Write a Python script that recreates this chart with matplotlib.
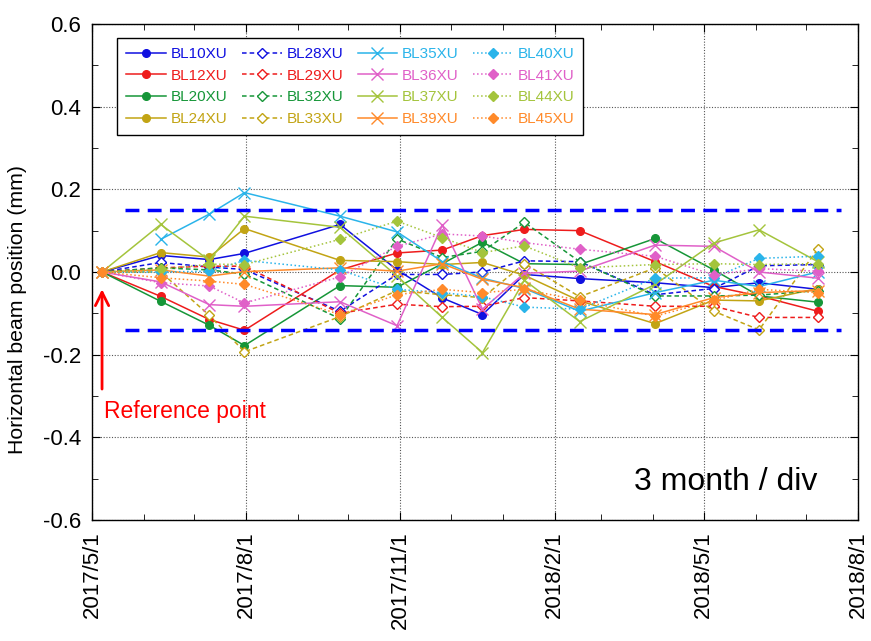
import numpy as np
import pandas as pd
import matplotlib
matplotlib.use('Agg')
import matplotlib.pyplot as plt
import matplotlib.dates as mdates

plt.rcParams['font.family'] = ['Liberation Sans', 'DejaVu Sans']

# measurement dates
dates = pd.to_datetime(['2017-05-07', '2017-06-11', '2017-07-10', '2017-07-31', '2017-09-26',
                        '2017-10-30', '2017-11-26', '2017-12-20', '2018-01-14', '2018-02-16',
                        '2018-04-02', '2018-05-07', '2018-06-03', '2018-07-08'])

nan = np.nan
# horizontal beam position (mm) per beamline
bl10 = [0, 0.04, 0.03, 0.045, 0.115, 0.005, -0.063, -0.103, -0.006, -0.016, -0.026, -0.038, -0.026, -0.042]
bl12 = [0, -0.059, -0.115, -0.141, 0.005, 0.046, 0.053, 0.088, 0.103, 0.100, 0.025, -0.035, -0.058, -0.095]
bl20 = [0, -0.071, -0.129, -0.178, -0.033, -0.037, 0.02, 0.072, 0.02, 0.018, 0.081, 0.005, -0.058, -0.073]
bl24 = [0, 0.047, 0.036, 0.105, 0.028, 0.025, 0.018, 0.023, -0.008, -0.07, -0.125, -0.068, -0.07, -0.04]
bl28 = [0, 0.023, 0.012, 0.006, -0.095, -0.006, -0.006, 0.0, 0.027, 0.025, -0.055, -0.04, 0.015, 0.018]
bl29 = [0, 0.01, 0.014, 0.014, -0.1, -0.078, -0.084, -0.083, -0.062, -0.07, -0.083, -0.083, -0.11, -0.11]
bl32 = [0, 0.01, 0.005, -0.005, -0.113, 0.08, 0.035, 0.05, 0.12, 0.025, -0.058, -0.058, -0.056, -0.045]
bl33 = [0, 0.0, -0.105, -0.193, -0.108, -0.045, -0.055, -0.062, 0.02, -0.06, 0.01, -0.095, -0.14, 0.055]
bl35 = [nan, 0.079, 0.14, 0.192, 0.135, 0.097, 0.025, -0.015, -0.04, -0.095, -0.05, -0.02, -0.035, 0.0]
bl36 = [0, -0.024, -0.079, -0.083, -0.072, -0.13, 0.113, -0.09, -0.003, 0.002, 0.065, 0.062, 0.0, -0.015]
bl37 = [0, 0.115, 0.028, 0.135, 0.108, -0.01, -0.11, -0.195, -0.02, -0.12, -0.03, 0.07, 0.102, 0.025]
bl39 = [0, 0.005, -0.01, 0.001, 0.01, 0.002, 0.02, -0.018, -0.038, -0.09, -0.103, -0.062, -0.05, -0.045]
bl40 = [0, 0.0, 0.002, 0.028, 0.005, -0.042, -0.05, -0.06, -0.085, -0.09, -0.015, -0.014, 0.033, 0.038]
bl41 = [0, -0.026, -0.034, -0.075, -0.012, 0.062, 0.092, 0.087, 0.071, 0.055, 0.038, -0.007, 0.008, 0.002]
bl44 = [0, 0.006, 0.019, 0.018, 0.079, 0.123, 0.083, 0.047, 0.063, 0.01, 0.018, 0.02, 0.018, 0.02]
bl45 = [0, -0.014, -0.022, -0.03, -0.103, -0.055, -0.042, -0.05, -0.042, -0.069, -0.107, -0.069, -0.042, -0.05]

names = ['BL10XU', 'BL12XU', 'BL20XU', 'BL24XU',
         'BL28XU', 'BL29XU', 'BL32XU', 'BL33XU',
         'BL35XU', 'BL36XU', 'BL37XU', 'BL39XU',
         'BL40XU', 'BL41XU', 'BL44XU', 'BL45XU']
values = [bl10, bl12, bl20, bl24, bl28, bl29, bl32, bl33,
          bl35, bl36, bl37, bl39, bl40, bl41, bl44, bl45]

limit_hi = 0.15
limit_lo = -0.14

c_blue, c_red, c_green, c_gold = '#1010e0', '#ee1c1c', '#169638', '#c2a414'
c_cyan, c_mag, c_ygreen, c_orange = '#2ab4ea', '#e060c8', '#a4c43c', '#ff8a2a'
colors = [c_blue, c_red, c_green, c_gold] * 2 + [c_cyan, c_mag, c_ygreen, c_orange] * 2

fig = plt.figure(figsize=(8.71, 6.41), dpi=100)
ax = fig.add_axes([0.1056, 0.1888, 0.8794, 0.7738])

for i, (name, v) in enumerate(zip(names, values)):
    col = colors[i]
    grp = i // 4
    if grp == 0:
        kw = dict(ls='-', marker='o', ms=5.5, mfc=col, mec=col)
    elif grp == 1:
        kw = dict(ls='--', marker='D', ms=5, mfc='white', mec=col, dashes=(3, 2))
    elif grp == 2:
        kw = dict(ls='-', marker='x', ms=9, mfc=col, mec=col, mew=1.0)
    else:
        kw = dict(ls=':', marker='D', ms=5, mfc=col, mec=col)
    ax.plot(dates, v, color=col, lw=1.1, label=name, **kw)

x0 = pd.Timestamp('2017-05-21')
x1 = pd.Timestamp('2018-07-22')
ax.plot([x0, x1], [limit_hi, limit_hi], color='#0000ff', lw=2.5, dashes=(4, 2.4))
ax.plot([x0, x1], [limit_lo, limit_lo], color='#0000ff', lw=2.5, dashes=(4, 2.4))

ax.set_xlim(pd.Timestamp('2017-05-01'), pd.Timestamp('2018-08-01'))
ax.set_ylim(-0.6, 0.6)

xt = pd.to_datetime(['2017-05-01', '2017-08-01', '2017-11-01', '2018-02-01', '2018-05-01', '2018-08-01'])
ax.set_xticks(xt)
ax.set_xticklabels([f'{d.year}/{d.month}/{d.day}' for d in xt], rotation=90, fontsize=16)
ax.xaxis.set_minor_locator(mdates.MonthLocator())
ax.set_yticks(np.arange(-0.6, 0.61, 0.2))
ax.set_yticklabels([f'{t:.1f}' for t in np.arange(-0.6, 0.61, 0.2)], fontsize=16)
ax.set_yticks(np.arange(-0.6, 0.61, 0.1), minor=True)
ax.tick_params(which='both', direction='in', top=True, right=True)
ax.tick_params(which='major', length=6, pad=8)
ax.tick_params(which='minor', length=4)
ax.grid(True, which='major', color='#555555', ls=(0, (1, 1.5)), lw=0.8)
for s in ax.spines.values():
    s.set_linewidth(1.0)

ax.set_ylabel('Horizontal beam position (mm)', fontsize=15.3)
ax.yaxis.set_label_coords(-0.085, 0.425)

ax.annotate('', xy=(pd.Timestamp('2017-05-07'), -0.035), xytext=(pd.Timestamp('2017-05-07'), -0.29),
            arrowprops=dict(arrowstyle='->', color='red', lw=2, mutation_scale=24))
ax.text(pd.Timestamp('2017-05-08'), -0.338, 'Reference point', color='red', fontsize=16.5, va='center')
ax.text(pd.Timestamp('2018-07-08'), -0.508, '3 month / div', fontsize=23, ha='right', va='center')

leg = ax.legend(ncol=4, loc='upper left', bbox_to_anchor=(0.033, 0.972), fontsize=11,
                handlelength=2.6, columnspacing=0.95, labelspacing=0.5, handletextpad=0.3,
                fancybox=False, edgecolor='black', framealpha=1, borderpad=0.6, borderaxespad=0)
leg.get_frame().set_linewidth(1.0)
for txt, col in zip(leg.get_texts(), colors):
    txt.set_color(col)

fig.savefig('out.png', dpi=100)
